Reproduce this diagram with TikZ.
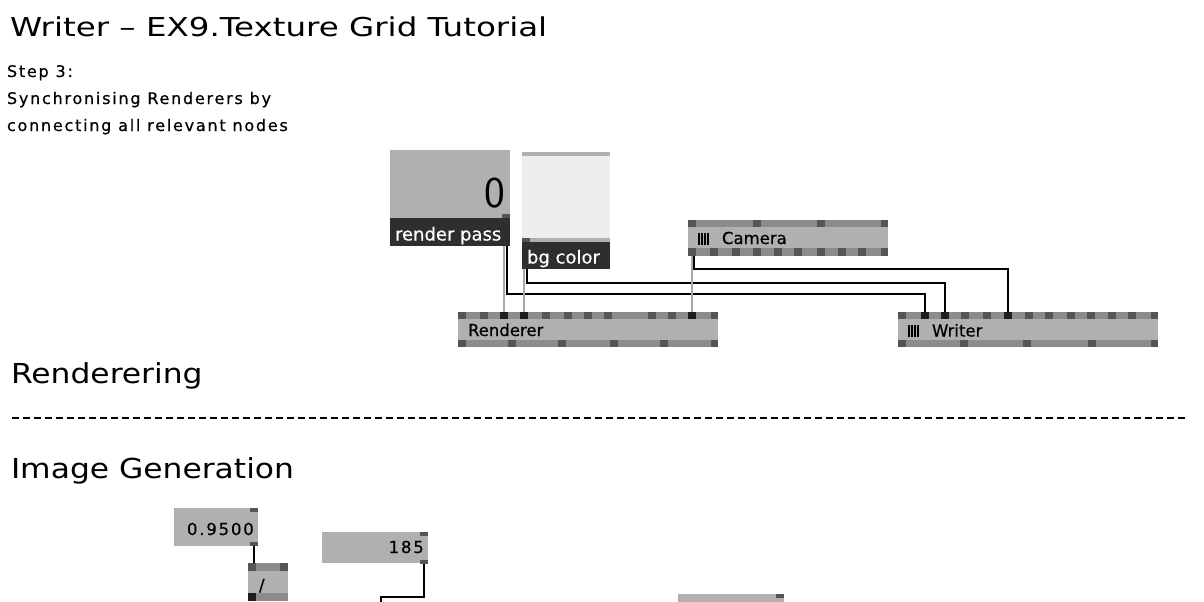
\documentclass[tikz,border=0pt]{standalone}
\usepackage{fontspec}
\setmainfont{DejaVu Sans}
\newfontfamily\titlefont[FakeStretch=1.25]{DejaVu Sans}
\newfontfamily\headfont[FakeStretch=1.14]{DejaVu Sans}
\newfontfamily\smallfont[LetterSpace=11,FakeBold=0.5]{DejaVu Sans}
\newfontfamily\labfont[FakeBold=0.5]{DejaVu Sans}
\newfontfamily\digitfont{Latin Modern Sans}
\definecolor{boxgray}{HTML}{B0B0B0}
\definecolor{stripegray}{HTML}{8C8C8C}
\definecolor{pingray}{HTML}{555555}
\definecolor{pinconn}{HTML}{1E1E1E}
\definecolor{darklab}{HTML}{2E2E2E}
\definecolor{lightfill}{HTML}{EEEEEE}
\definecolor{wiregray}{HTML}{A8A8A8}
\tikzset{
  boxnode/.style={draw=none, fill=boxgray, inner sep=0, outer sep=0, anchor=north west},
  txt/.style={inner sep=0, outer sep=0, anchor=base west, text=black},
  wire/.style={line width=2pt, black},
  gwire/.style={line width=2pt, wiregray},
  pin/.style={fill=pingray},
  cpin/.style={fill=pinconn},
  stripe/.style={fill=stripegray},
  bars/.style={line width=1.3pt, black}
}
\begin{document}
\begin{tikzpicture}[x=1pt,y=-1pt]
\useasboundingbox (0,0) rectangle (1204,602);
\fill[white] (0,0) rectangle (1204,602);

% ---------- texts ----------
\node[txt, font=\titlefont\fontsize{26}{30}\selectfont] (title) at (10,37) {Writer – EX9.Texture Grid Tutorial};
\node[txt, font=\smallfont\fontsize{16}{18}\selectfont] (step) at (7,77) {Step 3:};
\node[txt, font=\smallfont\fontsize{16}{18}\selectfont] (sync) at (7,104) {Synchronising Renderers by};
\node[txt, font=\smallfont\fontsize{16}{18}\selectfont] (conn) at (7,131) {connecting all relevant nodes};
\node[txt, font=\headfont\fontsize{27.5}{30}\selectfont] (hrend) at (11,383) {Renderering};
\node[txt, font=\headfont\fontsize{27.5}{30}\selectfont] (himg) at (11,478) {Image Generation};
\coordinate (dashL) at (12,418);
\coordinate (dashR) at (1186,418);
\draw[line width=1.5pt, dash pattern=on 7pt off 4pt] (dashL) -- (dashR);

% ---------- connector end points ----------
\coordinate (rpOut) at (504,246);
\coordinate (rpOutB) at (507,246);
\coordinate (bgOut) at (524,269);
\coordinate (bgOutB) at (527,269);
\coordinate (camOut) at (692,256);
\coordinate (camOutB) at (694,256);
\coordinate (renIn1) at (504,312);
\coordinate (renIn2) at (524,312);
\coordinate (renIn3) at (692,312);
\coordinate (wrIn1) at (925,312);
\coordinate (wrIn2) at (945,312);
\coordinate (wrIn3) at (1008,312);
\coordinate (numOut) at (254,546);
\coordinate (divIn) at (254,563);
\coordinate (nOut) at (424,564);
\coordinate (offIn) at (381,602);

% ---------- wires ----------
\draw[wire] (rpOutB) -- ++(0,48) -| (wrIn1);
\draw[wire] (bgOutB) -- ++(0,14) -| (wrIn2);
\draw[wire] (camOutB) -- ++(0,13) -| (wrIn3);
\draw[gwire] (rpOut) -- (renIn1);
\draw[gwire] (bgOut) -- (renIn2);
\draw[gwire] (camOut) -- (renIn3);
\draw[wire] (numOut) -- (divIn);
\draw[wire] (nOut) -- ++(0,33) -| (offIn);

% ---------- render pass IOBox ----------
\node[boxnode, minimum width=120pt, minimum height=68pt] (rp) at (390,150) {};
\node[boxnode, fill=darklab, minimum width=120pt, minimum height=28pt] (rplab) at (390,218) {};
\fill[pin] (502,214) rectangle (510,218);
\node[inner sep=0, anchor=base east, font=\digitfont\fontsize{44}{44}\selectfont] (rpval) at (505,207) {0};
\node[txt, text=white, font=\labfont\fontsize{18}{20}\selectfont] (rptext) at (395,240.5) {render pass};

% ---------- bg color IOBox ----------
\node[boxnode, fill=boxgray, minimum width=88pt, minimum height=90pt] (bg) at (522,152) {};
\fill[lightfill] (522,156) rectangle (610,238);
\fill[pin] (522,238) rectangle (530,242);
\node[boxnode, fill=darklab, minimum width=88pt, minimum height=27pt] (bglab) at (522,242) {};
\node[txt, text=white, font=\labfont\fontsize{18}{20}\selectfont] (bgtext) at (527,263.5) {bg color};

% ---------- Camera ----------
\node[boxnode, minimum width=200pt, minimum height=36pt] (cam) at (688,220) {};
\fill[stripe] (688,220) rectangle (888,227);
\fill[stripe] (688,248) rectangle (888,256);
\foreach \x in {688,753,817,880.5} \fill[pin] (\x,220) rectangle ++(7.5,7);
\foreach \x in {688,710,732,753,774,794,817,838,858,880.5} \fill[pin] (\x,248) rectangle ++(7.5,8);
\foreach \x in {699,702,705,708} \draw[bars] (\x,232.5) -- (\x,244.5);
\node[txt, font=\labfont\fontsize{16.5}{18}\selectfont] (camtext) at (722,244) {Camera};

% ---------- Renderer ----------
\node[boxnode, minimum width=260pt, minimum height=35pt] (ren) at (458,312) {};
\fill[stripe] (458,312) rectangle (718,319);
\fill[stripe] (458,340) rectangle (718,347);
\foreach \x in {458,480,542,564,584,604,648,668,710.5} \fill[pin] (\x,312) rectangle ++(7.5,7);
\foreach \x in {500,520,688} \fill[cpin] (\x,312) rectangle ++(7.5,7);
\foreach \x in {458,508,558,610,660,710.5} \fill[pin] (\x,340) rectangle ++(7.5,7);
\node[txt, font=\labfont\fontsize{16.5}{18}\selectfont] (rentext) at (468,336) {Renderer};

% ---------- Writer ----------
\node[boxnode, minimum width=260pt, minimum height=35pt] (wr) at (898,312) {};
\fill[stripe] (898,312) rectangle (1158,319);
\fill[stripe] (898,340) rectangle (1158,347);
\foreach \x in {898,961,983,1025,1045,1067,1087,1108,1128,1150.5} \fill[pin] (\x,312) rectangle ++(7.5,7);
\foreach \x in {921,941,1004} \fill[cpin] (\x,312) rectangle ++(7.5,7);
\foreach \x in {898,960,1023,1088,1150.5} \fill[pin] (\x,340) rectangle ++(7.5,7);
\foreach \x in {909,912,915,918} \draw[bars] (\x,325) -- (\x,337);
\node[txt, font=\labfont\fontsize{16.5}{18}\selectfont] (wrtext) at (932,336.5) {Writer};

% ---------- 0.9500 ----------
\node[boxnode, minimum width=84pt, minimum height=38pt] (num) at (174,508) {};
\fill[pin] (250,508) rectangle (258,512);
\fill[pin] (250,542) rectangle (258,546);
\node[inner sep=0, anchor=base east, font=\smallfont\fontsize{16.5}{18}\selectfont] (numtext) at (254,535) {0.9500};

% ---------- / ----------
\node[boxnode, minimum width=40pt, minimum height=38pt] (div) at (248,563) {};
\fill[stripe] (248,563) rectangle (288,571);
\fill[stripe] (248,593) rectangle (288,601);
\fill[pin] (248,563) rectangle (256,571);
\fill[pin] (280,563) rectangle (288,571);
\fill[pinconn] (248,593) rectangle (256,601);
\node[txt, font=\labfont\fontsize{16.5}{18}\selectfont] (divtext) at (259,591) {/};

% ---------- 185 ----------
\node[boxnode, minimum width=106pt, minimum height=31pt] (n185) at (322,532) {};
\fill[pin] (420,532) rectangle (428,536);
\fill[pin] (420,560) rectangle (428,564);
\node[inner sep=0, anchor=base east, font=\smallfont\fontsize{16.5}{18}\selectfont] (n185text) at (424,553) {185};

% ---------- partial box at bottom ----------
\node[boxnode, minimum width=106pt, minimum height=8pt] (lowbox) at (678,594) {};
\fill[pin] (776,594) rectangle (784,598);
\end{tikzpicture}
\end{document}
